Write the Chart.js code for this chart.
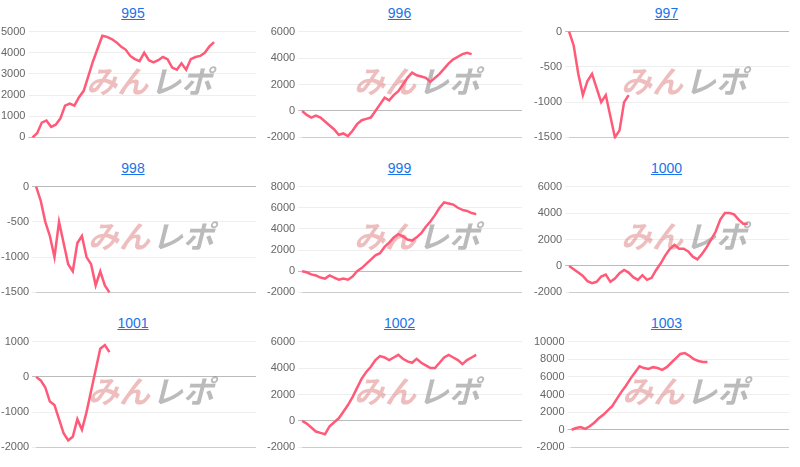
<!DOCTYPE html>
<html><head><meta charset="utf-8">
<script src="https://cdn.jsdelivr.net/npm/chart.js@4"></script>
<style>
body{margin:0;background:#fff;font-family:Arial,"Liberation Sans",sans-serif;}
#grid{display:grid;grid-template-columns:266px 267px 267px;grid-template-rows:155px 155px 157px;width:800px;}
.cell{position:relative;}
.cell a{position:absolute;top:5px;left:0;right:0;text-align:center;color:#1a73e8;font-size:14px;text-decoration:underline;}
.cell .wrap{position:absolute;top:22px;left:-2px;width:258px;height:125px;}
</style></head><body>
<div id="grid"></div>
<script>
const titles=["995","996","997","998","999","1000","1001","1002","1003"];
const s995=[0,200,700,800,500,600,900,1500,1600,1500,1900,2200,2900,3600,4200,4800,4750,4650,4500,4300,4150,3850,3700,3600,4000,3650,3550,3650,3800,3700,3300,3200,3500,3200,3700,3800,3850,4000,4300,4500];
const s996=[0,-300,-500,-350,-500,-800,-1100,-1400,-1800,-1700,-1900,-1500,-1000,-700,-600,-500,0,500,1000,800,1200,1500,2000,2500,2900,2700,2600,2500,2200,2500,2800,3200,3600,3900,4100,4300,4400,4300];
const s997=[0,-200,-600,-900,-700,-600,-800,-1000,-900,-1200,-1500,-1400,-1000,-900];
const s998=[0,-200,-500,-700,-1000,-500,-800,-1100,-1200,-800,-700,-1000,-1100,-1400,-1200,-1400,-1500];
const s999=[0,-100,-300,-400,-600,-700,-400,-600,-800,-700,-800,-500,0,300,700,1100,1500,1700,2300,2700,3200,3500,3300,3000,2900,3200,3600,4200,4700,5300,6000,6500,6400,6300,6000,5800,5700,5500,5400];
const s1000=[0,-250,-500,-750,-1150,-1300,-1200,-800,-650,-1200,-950,-550,-300,-500,-850,-1050,-700,-1050,-900,-300,200,800,1300,1600,1300,1300,1100,700,500,900,1400,2000,2600,3500,4000,4000,3900,3500,3200,3200];
const s1001=[0,-100,-300,-700,-800,-1200,-1600,-1800,-1700,-1200,-1500,-1000,-400,200,800,900,700];
const s1002=[0,-200,-500,-800,-900,-1000,-400,-100,200,700,1200,1800,2500,3200,3700,4100,4600,4900,4800,4600,4800,5000,4700,4500,4400,4700,4400,4200,4000,4000,4400,4800,5000,4800,4600,4300,4600,4800,5000];
const s1003=[0,200,300,100,400,800,1300,1700,2200,2700,3500,4300,5000,5800,6500,7200,7000,6900,7100,7000,6800,7100,7600,8100,8600,8700,8400,8000,7800,7700,7700];
const series=[s995,s996,s997,s998,s999,s1000,s1001,s1002,s1003];
const yMin=[0,-2000,-1500,-1500,-2000,-2000,-2000,-2000,-2000];
const yMax=[5000,6000,0,0,8000,6000,1000,6000,10000];
const ySteps=[1000,2000,500,500,2000,2000,1000,2000,2000];
const labels=Array.from({length:49},(_, i)=>String(i+1));

const watermark={id:'wm',beforeDatasetsDraw(c){
  const a=c.chartArea,ctx=c.ctx;const cx=(a.left+a.right)/2+4,cy=a.top+(a.bottom-a.top)*0.5;
  ctx.save();ctx.font='italic bold 31px "DejaVu Sans","Noto Sans CJK JP",sans-serif';ctx.textBaseline='middle';
  ctx.fillStyle='rgba(215,100,100,0.42)';ctx.textAlign='right';ctx.fillText('みん',cx,cy);
  ctx.fillStyle='rgba(120,120,120,0.5)';ctx.textAlign='left';ctx.fillText('レポ',cx+2,cy);ctx.restore();}};

const grid=document.getElementById('grid');
titles.forEach((t,i)=>{
  const cell=document.createElement('div');cell.className='cell';
  cell.innerHTML='<a href="#">'+t+'</a><div class="wrap"><canvas></canvas></div>';
  grid.appendChild(cell);
  new Chart(cell.querySelector('canvas'),{type:'line',
    data:{labels,datasets:[{data:series[i],borderColor:'rgb(255,90,120)',borderWidth:2.5,pointRadius:0,fill:false,tension:0}]},
    options:{responsive:true,maintainAspectRatio:false,animation:false,
      plugins:{legend:{display:false},tooltip:{enabled:false}},
      layout:{padding:{top:6}},
      scales:{x:{ticks:{display:false},grid:{display:false},border:{color:'#ccc'}},
        y:{suggestedMin:yMin[i],suggestedMax:yMax[i],
           ticks:{color:'#666',font:{size:11},stepSize:ySteps[i],callback:v=>String(v)},
           grid:{color:ctx=>ctx.tick.value===0?'#bbb':'#eee',drawTicks:true,tickLength:4},border:{display:false}}}},
    plugins:[watermark]});
});
</script></body></html>
